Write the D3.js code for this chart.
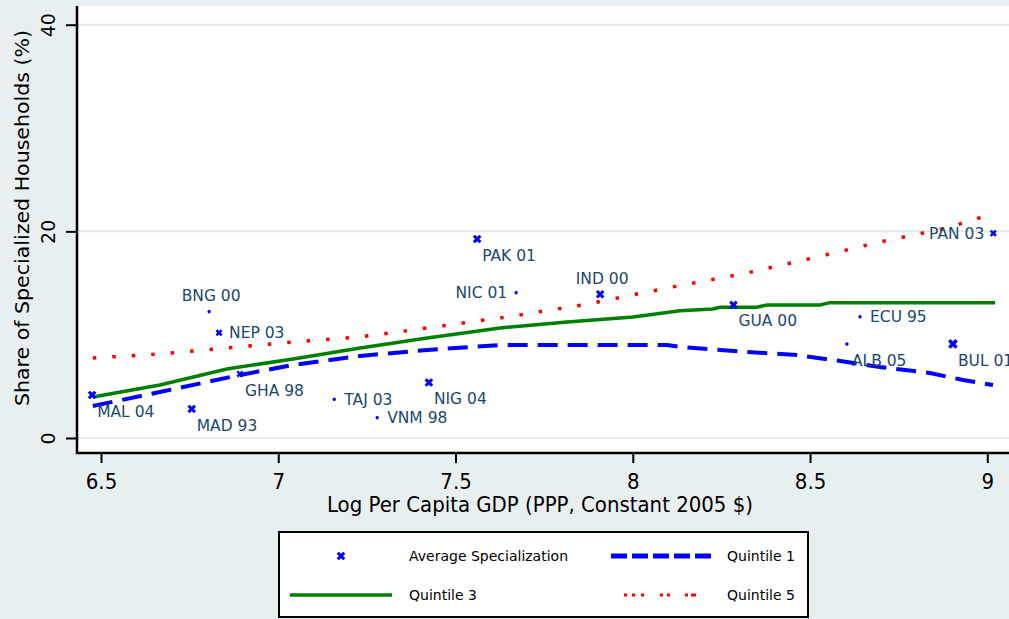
<!DOCTYPE html>
<html>
<head>
<meta charset="utf-8">
<script src="https://cdn.jsdelivr.net/npm/d3@7"></script>
<style>
  body { margin: 0; background: #e8eff1; }
  svg { display: block; }
  .tick line { stroke: #000; stroke-width: 2; }
  .domain { display: none; }
</style>
</head>
<body>
<div id="chart"></div>
<script>
// Survey points (country + survey year)
const countries = ["MAL 04", "MAD 93", "BNG 00", "NEP 03", "GHA 98", "TAJ 03", "VNM 98", "NIG 04",
                   "PAK 01", "NIC 01", "IND 00", "GUA 00", "ECU 95", "ALB 05", "BUL 01", "PAN 03"];
const logGdp = [6.475, 6.756, 6.805, 6.833, 6.892, 7.158, 7.279, 7.425,
                7.561, 7.671, 7.908, 8.284, 8.641, 8.604, 8.903, 9.017];
const avgSpec = [4.16, 2.81, 12.23, 10.19, 6.20, 3.75, 1.97, 5.37,
                 19.26, 14.07, 13.91, 12.88, 11.74, 9.10, 9.10, 19.82];
const weight = [3, 3, 1, 2, 2, 1, 1, 3, 3, 1, 3, 3, 1, 1, 4, 2];
// Stata-style clock position of each marker label
const labelPos = [4, 4, 12, 3, 4, 3, 3, 4, 4, 9, 12, 4, 3, 4, 4, 9];

// Fitted lines by expenditure quintile
const q1X = [6.477, 6.666, 6.892, 7.042, 7.231, 7.420, 7.626, 8.097, 8.133, 8.322, 8.463, 8.604, 8.697, 8.838, 8.932, 9.016];
const q1Y = [3.10, 4.45, 6.10, 7.07, 7.94, 8.52, 9.00, 9.00, 8.81, 8.33, 8.03, 7.36, 6.87, 6.29, 5.61, 5.13];
const q3X = [6.477, 6.666, 6.855, 7.042, 7.231, 7.420, 7.626, 7.815, 8.001, 8.133, 8.226, 8.246, 8.350, 8.379, 8.528, 8.556, 9.022];
const q3Y = [3.97, 5.13, 6.68, 7.65, 8.71, 9.68, 10.65, 11.23, 11.71, 12.32, 12.49, 12.65, 12.65, 12.88, 12.88, 13.10, 13.10];
const q5X = [6.477, 6.666, 6.855, 7.042, 7.231, 7.420, 7.626, 7.860, 8.097, 8.322, 8.508, 8.697, 8.886, 9.013];
const q5Y = [7.74, 8.13, 8.71, 9.29, 9.78, 10.65, 11.62, 12.88, 14.52, 15.97, 17.42, 18.97, 20.33, 21.68];

const xTicks = [6.5, 7, 7.5, 8, 8.5, 9];
const yTicks = [0, 20, 40];

const width = 1009, height = 619;
const plot = { left: 77, top: 6, right: 1009, bottom: 453 };
const navy = "#1a476f";
const blue = "#0000ff";

const svg = d3.select("#chart").append("svg")
    .attr("width", width)
    .attr("height", height);

svg.append("rect").attr("width", width).attr("height", height).attr("fill", "#e8eff1");

const x = d3.scaleLinear().domain([6.5, 9]).range([101, 987.3]);
const y = d3.scaleLinear().domain([0, 40]).range([438, 24.7]);
const markerSize = d3.scaleSqrt().domain([1, 4]).range([10, 60]);

// Plot region
svg.append("rect")
    .attr("x", plot.left).attr("y", plot.top)
    .attr("width", plot.right - plot.left).attr("height", plot.bottom - plot.top)
    .attr("fill", "#fff");

// Gridlines
svg.append("g").selectAll("line")
    .data(yTicks)
    .join("line")
    .attr("x1", plot.left).attr("x2", plot.right)
    .attr("y1", d => y(d)).attr("y2", d => y(d))
    .attr("stroke", "#e1e9ec")
    .attr("stroke-width", 2);

// Lines
const line = d3.line().x(d => x(d[0])).y(d => y(d[1]));
const series = [
    { xs: q3X, ys: q3Y, color: "#008000", w: 3.5, dash: null },
    { xs: q1X, ys: q1Y, color: blue, w: 4, dash: "20,10" },
    { xs: q5X, ys: q5Y, color: "#ff0000", w: 3.5, dash: "3.5,16" }
];
svg.append("g").selectAll("path")
    .data(series)
    .join("path")
    .attr("d", s => line(d3.zip(s.xs, s.ys)))
    .attr("fill", "none")
    .attr("stroke", s => s.color)
    .attr("stroke-width", s => s.w)
    .attr("stroke-dasharray", s => s.dash);

// Markers
const points = countries.map((c, i) => ({ c, gx: logGdp[i], sv: avgSpec[i], w: weight[i], pos: labelPos[i] }));

const markers = svg.append("g");
markers.selectAll("path")
    .data(points)
    .join("path")
    .attr("transform", d => `translate(${x(d.gx)},${y(d.sv)}) rotate(45)`)
    .attr("d", d => d.w === 1
        ? d3.symbol(d3.symbolCircle, 9)()
        : d3.symbol(d3.symbolCross, markerSize(d.w))())
    .attr("fill", blue);

// Marker labels
const labelOffset = {
    3: { dx: 10, dy: 0, anchor: "start" },
    4: { dx: 5, dy: 16, anchor: "start" },
    9: { dx: -9, dy: 0, anchor: "end" },
    12: { dx: 2, dy: -16, anchor: "middle" }
};
svg.append("g").selectAll("text")
    .data(points)
    .join("text")
    .attr("x", d => x(d.gx) + labelOffset[d.pos].dx)
    .attr("y", d => y(d.sv) + labelOffset[d.pos].dy)
    .attr("dy", "0.36em")
    .attr("text-anchor", d => labelOffset[d.pos].anchor)
    .attr("font-family", "DejaVu Sans")
    .attr("font-size", "15.5px")
    .attr("fill", navy)
    .text(d => d.c);

// Axes
svg.append("g")
    .attr("transform", `translate(0,${plot.bottom})`)
    .call(d3.axisBottom(x).tickValues(xTicks).tickSize(10).tickPadding(10).tickFormat(d => String(d)))
    .call(g => g.selectAll("text")
        .attr("font-family", "DejaVu Sans Condensed")
        .attr("font-size", "22px")
        .attr("fill", "#000")
        .attr("dy", "0.74em"));

svg.append("g")
    .attr("transform", `translate(${plot.left},0)`)
    .call(d3.axisLeft(y).tickValues(yTicks).tickSize(11).tickFormat(d => String(d)))
    .call(g => g.selectAll("text")
        .attr("transform", "rotate(-90)")
        .attr("x", 0)
        .attr("y", -22)
        .attr("dy", 0)
        .attr("text-anchor", "middle")
        .attr("font-family", "DejaVu Sans")
        .attr("font-size", "19px")
        .attr("fill", "#000"));

svg.append("line")
    .attr("x1", plot.left).attr("x2", plot.left)
    .attr("y1", plot.top).attr("y2", plot.bottom + 1)
    .attr("stroke", "#000").attr("stroke-width", 2.5);
svg.append("line")
    .attr("x1", plot.left - 1).attr("x2", plot.right)
    .attr("y1", plot.bottom).attr("y2", plot.bottom)
    .attr("stroke", "#000").attr("stroke-width", 2.5);

// Axis titles
svg.append("text")
    .attr("x", 540).attr("y", 512)
    .attr("text-anchor", "middle")
    .attr("font-family", "DejaVu Sans Condensed")
    .attr("font-size", "21px")
    .attr("textLength", 426)
    .attr("lengthAdjust", "spacingAndGlyphs")
    .text("Log Per Capita GDP (PPP, Constant 2005 $)");

svg.append("text")
    .attr("transform", "translate(29,218) rotate(-90)")
    .attr("text-anchor", "middle")
    .attr("font-family", "DejaVu Sans")
    .attr("font-size", "20px")
    .attr("textLength", 376)
    .attr("lengthAdjust", "spacingAndGlyphs")
    .text("Share of Specialized Households (%)");

// Legend
const legend = svg.append("g");
legend.append("rect")
    .attr("x", 279).attr("y", 532).attr("width", 529).attr("height", 85)
    .attr("fill", "#fff").attr("stroke", "#000").attr("stroke-width", 2);

legend.append("path")
    .attr("transform", "translate(341,556) rotate(45)")
    .attr("d", d3.symbol(d3.symbolCross, markerSize(3))())
    .attr("fill", blue);

const legendLines = [
    { x1: 611, x2: 711, y: 556, color: blue, w: 5, dash: "16,5" },
    { x1: 290, x2: 392, y: 595, color: "#008000", w: 3.5, dash: null },
    { x1: 624, x2: 698, y: 595, color: "#ff0000", w: 3, dash: "3,5,3,6,3,16,3,4,3,15,3" }
];
legend.selectAll("line")
    .data(legendLines)
    .join("line")
    .attr("x1", d => d.x1).attr("x2", d => d.x2)
    .attr("y1", d => d.y).attr("y2", d => d.y)
    .attr("stroke", d => d.color)
    .attr("stroke-width", d => d.w)
    .attr("stroke-dasharray", d => d.dash);

const legendLabels = [
    { t: "Average Specialization", x: 409, y: 556 },
    { t: "Quintile 1", x: 727, y: 556 },
    { t: "Quintile 3", x: 409, y: 595 },
    { t: "Quintile 5", x: 727, y: 595 }
];
legend.selectAll("text")
    .data(legendLabels)
    .join("text")
    .attr("x", d => d.x).attr("y", d => d.y)
    .attr("dy", "0.36em")
    .attr("font-family", "DejaVu Sans")
    .attr("font-size", "14px")
    .attr("fill", "#000")
    .text(d => d.t);
</script>
</body>
</html>
